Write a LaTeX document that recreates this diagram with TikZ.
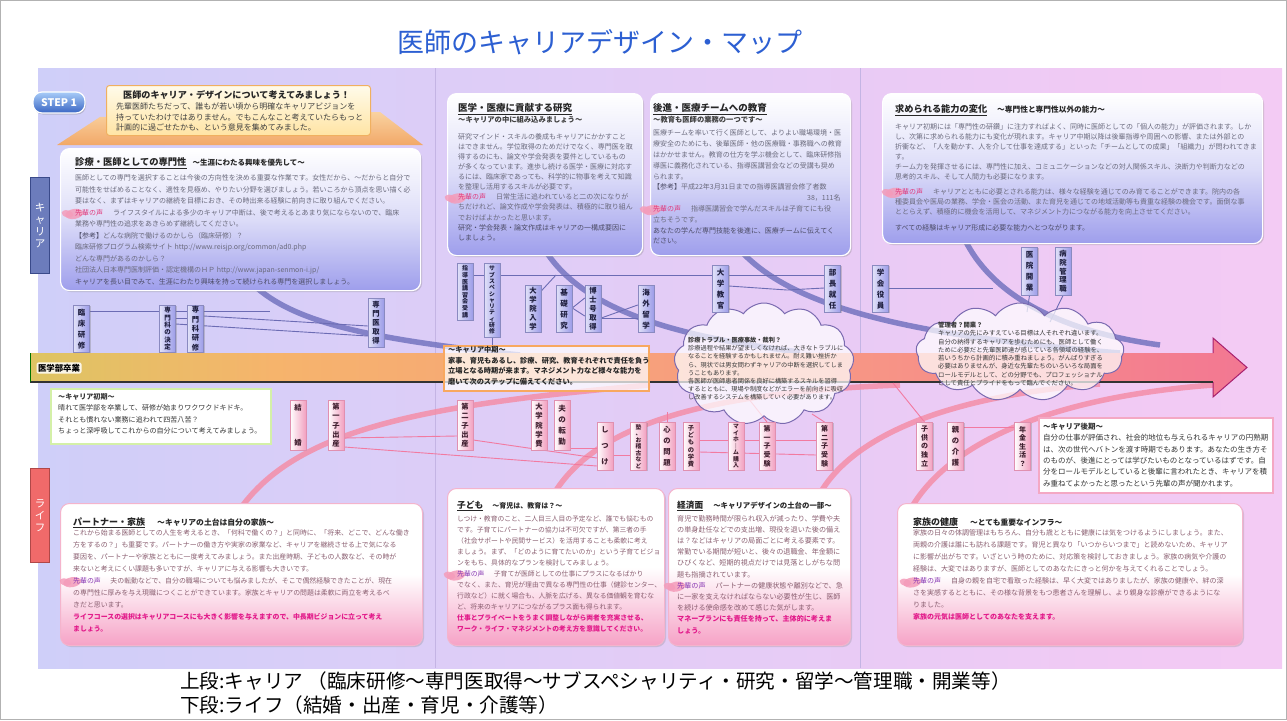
\documentclass[tikz,border=0pt]{standalone}
\usepackage{fontspec}
\setmainfont{Noto Sans CJK JP}
\usepackage{graphicx}
\usetikzlibrary{shapes.symbols,shadows}
\definecolor{ttl}{HTML}{2C5FD2}
\definecolor{bgA}{HTML}{B8D0FA}\definecolor{bgB}{HTML}{D8CEF8}\definecolor{bgC}{HTML}{F2CAF4}\definecolor{bgD}{HTML}{F8D0F6}
\definecolor{divc}{HTML}{C4B4E4}
\definecolor{arA}{HTML}{86D63C}\definecolor{arB}{HTML}{CCD05C}\definecolor{arC}{HTML}{F6B46C}\definecolor{arD}{HTML}{F79486}\definecolor{arE}{HTML}{F06A98}\definecolor{arF}{HTML}{D8288E}\definecolor{arO}{HTML}{A8206E}
\definecolor{cboxB}{HTML}{9E9EEC}\definecolor{cboxM}{HTML}{DCDCF8}
\definecolor{lboxB}{HTML}{F6A2C6}\definecolor{lboxD}{HTML}{F4B4CC}
\definecolor{ctext}{HTML}{6A6A7C}\definecolor{cclose}{HTML}{4C4C66}\definecolor{cvoice}{HTML}{E03C7E}\definecolor{blob}{HTML}{F49CBA}
\definecolor{ltext}{HTML}{8A5E70}\definecolor{lvoice}{HTML}{8A3AB4}\definecolor{lmag}{HTML}{E2198A}
\definecolor{clabB}{HTML}{9C9CE8}\definecolor{clabD}{HTML}{8A8AC0}\definecolor{clabT}{HTML}{202040}
\definecolor{llabB}{HTML}{F2A0C0}\definecolor{llabD}{HTML}{E090B0}\definecolor{llabT}{HTML}{402030}
\definecolor{clineC}{HTML}{6C6CB4}\definecolor{llineC}{HTML}{F27AA0}
\definecolor{bcurC}{HTML}{7474C0}\definecolor{pcurC}{HTML}{F48EA8}
\definecolor{ribT}{HTML}{F9D2A0}\definecolor{ribB}{HTML}{F2A868}
\definecolor{banT}{HTML}{FFFBEA}\definecolor{banB}{HTML}{FFE4A4}\definecolor{banD}{HTML}{F0B060}
\definecolor{stT}{HTML}{A8CCF8}\definecolor{stB}{HTML}{3A66C4}
\definecolor{cloudD}{HTML}{7A6AB0}
\definecolor{tabC}{HTML}{6C7CBC}\definecolor{tabCD}{HTML}{3A4A8A}\definecolor{tabL}{HTML}{F06A6A}\definecolor{tabLD}{HTML}{B04848}
\definecolor{greenB}{HTML}{D4F0A8}\definecolor{orgB}{HTML}{F8A860}\definecolor{lateB}{HTML}{F4A8C4}
\pgfdeclarehorizontalshading{bgsh}{100bp}{color(0bp)=(bgA); color(35bp)=(bgB); color(70bp)=(bgC); color(100bp)=(bgD)}
\pgfdeclarehorizontalshading{arrsh}{100bp}{color(0bp)=(arA); color(18bp)=(arB); color(35bp)=(arC); color(60bp)=(arD); color(82bp)=(arE); color(100bp)=(arF)}
\pgfdeclarelayer{back}
\pgfdeclarelayer{lines}
\pgfsetlayers{back,lines,main}
\makeatletter
\newcommand\vstk[1]{\vbox{\lineskiplimit=-20pt\@tfor\vs@c:=#1\do{\hbox to 1em{\hss\vs@c\hss}}}}
\makeatother
\newcommand\fsz[2]{\fontsize{#1}{#2}\selectfont}
\newcommand\sv[1]{\textcolor{#1}{先輩の声}\hspace{1.4em}}
\tikzset{
  cbox/.style={anchor=north west, inner sep=0pt, rounded corners=9pt, draw=white, line width=1.2pt, top color=white, bottom color=cboxB, middle color=cboxM, drop shadow={opacity=.3,shadow xshift=1.5pt,shadow yshift=-1.5pt}},
  lbox/.style={anchor=north west, inner sep=0pt, rounded corners=9pt, draw=lboxD, line width=1pt, top color=white, bottom color=lboxB, middle color=white, drop shadow={opacity=.25,shadow xshift=1.5pt,shadow yshift=-1.5pt}},
  tx/.style={anchor=north west, inner sep=0pt, align=left},
  clab/.style={anchor=north, inner sep=1pt, minimum width=16pt, draw=clabD, line width=.5pt, left color=white!70!clabB, right color=clabB, text=clabT, drop shadow={opacity=.35,shadow xshift=1pt,shadow yshift=-1pt}},
  llab/.style={anchor=north, inner sep=1pt, minimum width=16pt, draw=llabD, line width=.5pt, left color=white, right color=llabB, text=llabT, drop shadow={opacity=.35,shadow xshift=1pt,shadow yshift=-1pt}},
  cline/.style={draw=clineC, line width=.9pt},
  lline/.style={draw=llineC, line width=.9pt},
  bcurve/.style={draw=bcurC, line width=5.5pt, opacity=.85},
  pcurve/.style={draw=pcurC, line width=5.5pt, opacity=.85},
  cloudy/.style={cloud, cloud puffs=13, cloud puff arc=110, draw=cloudD, line width=1pt, fill=white, fill opacity=.72, inner sep=0pt},
  blobby/.style={fill=blob, fill opacity=.85},
}
\newcommand\blobat[2]{\fill[blobby, shift={(#1,#2)}, rotate=10] (-1,1) ellipse [x radius=9, y radius=5];\fill[blobby, shift={(#1,#2)}, rotate=-15] (-7,3) ellipse [x radius=6, y radius=3.5];}
\begin{document}
\begin{tikzpicture}[x=1pt,y=-1pt]
\useasboundingbox (0,0) rectangle (1287,720);
\begin{pgfonlayer}{back}
\fill[white] (0,0) rectangle (1287,720);
\draw[gray!60, line width=.8pt] (0.5,0.5) rectangle (1286.5,719.5);
\shade[shading=bgsh] (38,68) rectangle (1282,668);
\draw[divc, line width=1pt] (435,68) -- (435,668);
\draw[divc, line width=1pt] (860,68) -- (860,668);
% thick curves
\draw[bcurve] (257,288) .. controls (300,325) and (380,340) .. (520,355);
\draw[bcurve] (545,250) .. controls (580,305) and (660,335) .. (800,352);
\draw[bcurve] (740,250) .. controls (790,305) and (900,335) .. (1120,353);
\draw[bcurve] (965,240) .. controls (990,290) and (1050,330) .. (1160,345);
\draw[pcurve] (243,505) .. controls (300,430) and (420,405) .. (650,385);
\draw[pcurve] (555,492) .. controls (600,420) and (720,392) .. (900,385);
\draw[pcurve] (822,490) .. controls (860,430) and (960,395) .. (1100,384);
\draw[pcurve] (913,505) .. controls (960,430) and (1080,395) .. (1213,385);
% main arrow
\shade[shading=arrsh] (30,353) -- (1213,353) -- (1213,338) -- (1247,367.5) -- (1213,397) -- (1213,382) -- (30,382) -- cycle;
\draw[arO, line width=1pt] (1213,353) -- (1213,338) -- (1247,367.5) -- (1213,397) -- (1213,382);
\draw[black!80, line width=1.2pt] (30,382) -- (1213,382);
\draw[green!45!black, line width=.8pt] (30,353) -- (30,382);
\end{pgfonlayer}

% title and footer
\node[text=ttl, font=\fsz{27}{30}] (title) at (600,42) {医師のキャリアデザイン・マップ};
\node[anchor=west, inner sep=0pt, font=\fsz{19.6}{22}] (foot1) at (180,681) {上段:キャリア （臨床研修～専門医取得～サブスペシャリティ・研究・留学～管理職・開業等）};
\node[anchor=west, inner sep=0pt, font=\fsz{19.6}{22}] (foot2) at (180,705) {下段:ライフ（結婚・出産・育児・介護等）};

% side tabs
\node[anchor=north west, draw=tabCD, fill=tabC, line width=1pt, minimum width=19pt, minimum height=96pt, inner sep=0pt, text=white, font=\fsz{10.5}{12}] (tabc) at (30,177) {\vstk{キャリア}};
\node[anchor=north west, draw=tabLD, fill=tabL, line width=1pt, minimum width=19pt, minimum height=94pt, inner sep=0pt, text=white, font=\fsz{10.5}{12}] (tabl) at (30,468) {\vstk{ライフ}};

% banner
\shade[top color=ribT, bottom color=ribB] (57,145) -- (100,117) -- (380,112) -- (423,145) -- cycle;
\node[anchor=north west, minimum width=264pt, minimum height=50pt, rounded corners=3pt, draw=banD, line width=1pt, top color=banT, bottom color=banB, inner sep=0pt] (ban) at (106,85) {};
\node[tx, font=\fsz{9.1}{11}\bfseries, text=black!85] (bant) at (123,90.5) {医師のキャリア・デザインについて考えてみましょう！};
\node[tx, font=\fsz{8}{10.5}, text=black!75] (banb) at (116,102.7) {先輩医師たちだって、誰もが若い頃から明確なキャリアビジョンを\\持っていたわけではありません。でもこんなこと考えていたらもっと\\計画的に過ごせたかも、という意見を集めてみました。};
\node[rounded corners=9pt, top color=stT, bottom color=stB, draw=white, line width=1.2pt, text=white, font=\fsz{10.5}{12}\bfseries, minimum width=52pt, minimum height=21pt, inner sep=0pt, drop shadow={opacity=.35,shadow xshift=1pt,shadow yshift=-1.5pt}] (step) at (59,102.5) {STEP 1};

% career boxes
\node[cbox, minimum width=360pt, minimum height=142pt] (b1) at (60,148) {};
\node[cbox, minimum width=195pt, minimum height=162pt] (b2) at (447,93) {};
\node[cbox, minimum width=200pt, minimum height=162pt] (b3) at (650,93) {};
\node[cbox, minimum width=380pt, minimum height=150pt] (b4) at (882,93) {};
% life boxes
\node[lbox, minimum width=362pt, minimum height=142pt] (b5) at (60,503) {};
\node[lbox, minimum width=217pt, minimum height=157pt] (b6) at (447,488) {};
\node[lbox, minimum width=182pt, minimum height=157pt] (b7) at (668,488) {};
\node[lbox, minimum width=345pt, minimum height=142pt] (b8) at (897,503) {};
% "senpai no koe" blobs
\blobat{75}{212.8}
\blobat{458}{197.3}
\blobat{653}{208.9}
\blobat{895}{191.7}
\blobat{73}{581}
\blobat{457}{574.3}
\blobat{677}{585.5}
\blobat{913}{581.3}
% notes
\node[anchor=north west, inner sep=0pt, minimum width=220pt, minimum height=55pt, fill=white, draw=greenB, line width=1.5pt] (early) at (50,388) {};
\node[anchor=north west, inner sep=0pt, minimum width=205pt, minimum height=45pt, fill=white, fill opacity=.72, draw=orgB, line width=2pt] (midbox) at (443,345) {};
\node[anchor=north west, inner sep=0pt, minimum width=234pt, minimum height=75pt, fill=white, draw=lateB, line width=1.5pt] (late) at (1038,417) {};
\node[cloudy, minimum width=180pt, minimum height=122pt] (cl1) at (764,364) {};
\node[cloudy, minimum width=208pt, minimum height=98pt] (cl2) at (1020,352) {};
\node[anchor=center, fill=white, fill opacity=.85, text opacity=1, rounded corners=2pt, inner sep=1.5pt, font=\fsz{8.4}{10}\bfseries] (grad) at (59,368) {医学部卒業};

% career labels
\node[clab, minimum height=47pt, font=\fsz{7.5}{11}\bfseries] (rin) at (81.5,305) {\vstk{臨床研修}};
\node[clab, minimum height=47pt, font=\fsz{6.5}{7.4}\bfseries] (ket) at (167.5,305) {\vstk{専門科の決定}};
\node[clab, minimum height=47pt, font=\fsz{7.3}{9.3}\bfseries] (ken) at (195.5,305) {\vstk{専門科研修}};
\node[clab, minimum height=49pt, font=\fsz{7.3}{8.8}\bfseries] (sen) at (376,298) {\vstk{専門医取得}};
\node[clab, minimum height=57pt, font=\fsz{6}{6.6}\bfseries] (shi) at (465,263) {\vstk{指導医講習会受講}};
\node[clab, minimum height=74pt, font=\fsz{5.8}{6.3}\bfseries] (sub) at (492,263) {\vstk{サブスペシャリティ研修}};
\node[clab, minimum height=47pt, font=\fsz{7.3}{8.8}\bfseries] (dai) at (533,285) {\vstk{大学院入学}};
\node[clab, minimum height=47pt, font=\fsz{7.5}{11}\bfseries] (kis) at (564,285) {\vstk{基礎研究}};
\node[clab, minimum height=47pt, font=\fsz{7.3}{8.8}\bfseries] (hak) at (593,285) {\vstk{博士号取得}};
\node[clab, minimum height=47pt, font=\fsz{7.5}{11}\bfseries] (kai) at (646,285) {\vstk{海外留学}};
\node[clab, minimum height=47pt, font=\fsz{7.5}{11}\bfseries] (kyo) at (720.5,265) {\vstk{大学教官}};
\node[clab, minimum height=47pt, font=\fsz{7.5}{11}\bfseries] (bu) at (832.5,265) {\vstk{部長就任}};
\node[clab, minimum height=47pt, font=\fsz{7.5}{11}\bfseries] (gak) at (880.5,265) {\vstk{学会役員}};
\node[clab, minimum height=48pt, font=\fsz{7.5}{11}\bfseries] (iin) at (1029.5,247) {\vstk{医院開業}};
\node[clab, minimum height=48pt, font=\fsz{7.3}{8.8}\bfseries] (byo) at (1063,247) {\vstk{病院管理職}};
% life labels
\node[llab, minimum height=50pt, font=\fsz{7.3}{35}\bfseries] (kek) at (298,400) {\vstk{結婚}};
\node[llab, minimum height=50pt, font=\fsz{7.3}{9.3}\bfseries] (dai1) at (336,400) {\vstk{第一子出産}};
\node[llab, minimum height=50pt, font=\fsz{7.3}{9.3}\bfseries] (dai2) at (465,400) {\vstk{第二子出産}};
\node[llab, minimum height=50pt, font=\fsz{7.3}{9.3}\bfseries] (gakuhi) at (539,400) {\vstk{大学院学費}};
\node[llab, minimum height=50pt, font=\fsz{7.5}{11}\bfseries] (ten) at (562,400) {\vstk{夫の転勤}};
\node[llab, minimum height=48pt, font=\fsz{7.3}{16}\bfseries] (shitsuke) at (605,422) {\vstk{しつけ}};
\node[llab, minimum height=48pt, font=\fsz{5.8}{6.5}\bfseries] (juku) at (638.5,422) {\vstk{塾、お稽古など}};
\node[llab, minimum height=48pt, font=\fsz{7.3}{11}\bfseries] (kokoro) at (667,422) {\vstk{心の問題}};
\node[llab, minimum height=48pt, font=\fsz{6.3}{7.2}\bfseries] (gakuhi2) at (691,422) {\vstk{子どもの学費}};
\node[llab, minimum height=48pt, font=\fsz{5.8}{6.5}\bfseries] (home) at (736,422) {\vstk{マイホ｜ム購入}};
\node[llab, minimum height=48pt, font=\fsz{7}{8.6}\bfseries] (ju1) at (767,422) {\vstk{第一子受験}};
\node[llab, minimum height=48pt, font=\fsz{7}{8.6}\bfseries] (ju2) at (824.5,422) {\vstk{第二子受験}};
\node[llab, minimum height=48pt, font=\fsz{7}{8.6}\bfseries] (dok) at (924.5,422) {\vstk{子供の独立}};
\node[llab, minimum height=48pt, font=\fsz{7.3}{11}\bfseries] (kai2) at (955.5,422) {\vstk{親の介護}};
\node[llab, minimum height=48pt, font=\fsz{7}{8.6}\bfseries] (nen) at (1022.5,422) {\vstk{年金生活？}};

% free ends of connectors
\coordinate (f1) at (270,311);
\coordinate (f2) at (556,275);
\coordinate (f3) at (787,290);
\coordinate (f4) at (993,288);
\coordinate (f5) at (1027,312);
\coordinate (f6) at (1050,322);
\coordinate (f7) at (667,412);
\coordinate (f8) at (748,398);
\coordinate (f9) at (812,414);
\coordinate (f10) at (893,383);

\begin{pgfonlayer}{lines}
\draw[cline] (rin.east |- 0,311) -- (f1);
\draw[cline] (ket.east |- 0,318) -- (ken.west |- 0,318);
\draw[cline] (ket.east |- 0,324) -- (sen.west |- 0,336);
\draw[cline] (ken.east |- 0,316) -- (sen.west |- 0,326);
\draw[cline] (shi.east |- 0,275) -- (sub.west |- 0,275);
\draw[cline] (sub.east |- 0,275) -- (kyo.west |- 0,275);
\draw[cline] (kyo.east |- 0,275) -- (bu.west |- 0,275);
\draw[cline] (dai.east |- 0,291) -- (f2);
\draw[cline] (kis.east |- 0,308) -- (hak.west |- 0,298);
\draw[cline] (kis.east |- 0,308) -- (hak.west |- 0,316);
\draw[cline] (hak.east |- 0,318) -- (kai.west |- 0,318);
\draw[cline] (hak.east |- 0,318) -- (kai.west |- 0,305);
\draw[cline] (sub.south) -- (sub.south |- midbox.north);
\draw[cline] (kyo.east |- 0,286) -- (f3) -- (bu.west |- 0,288);
\draw[cline] (gak.east |- 0,288) -- (f4);
\draw[cline] (iin.south) -- (f5);
\draw[cline] (byo.south) -- (f6);
\draw[lline] (dai1.east |- 0,438) -- (dai2.west |- 0,436);
\draw[lline] (dai1.east |- 0,447) -- (shitsuke.west |- 0,466);
\draw[lline] (dai2.east |- 0,440) -- (shitsuke.west |- 0,458);
\draw[lline] (ten.east |- 0,448) -- (shitsuke.west |- 0,448);
\draw[lline] (shitsuke.east |- 0,455) -- (juku.west |- 0,455);
\draw[lline] (gakuhi2.east |- 0,440) -- (ju2.west |- 0,440);
\draw[lline] (gakuhi2.east |- 0,452) -- (ju2.west |- 0,455);
\draw[lline] (kokoro.north) -- (f7);
\draw[lline] (ju1.north) -- (f8);
\draw[lline] (ju2.north) -- (f9);
\draw[lline] (dok.north) -- (f10);
\draw[lline] (kai2.east |- 0,427) -- (nen.west |- 0,427);
\end{pgfonlayer}

% ---- texts: career box 1
\node[tx, font=\fsz{9.3}{11}\bfseries, text=black!85] (t1) at (75,157.3) {\underline{診療・医師としての専門性}\hspace{6pt}{\fsz{7.5}{9}\bfseries ～生涯にわたる興味を優先して～}};
\node[tx, font=\fsz{7}{11.5}, text=ctext] (x1) at (75,174.8) {医師としての専門を選択することは今後の方向性を決める重要な作業です。女性だから、～だからと自分で\\
可能性をせばめることなく、適性を見極め、やりたい分野を選びましょう。若いころから頂点を思い描く必\\
要はなく、まずはキャリアの継続を目標におき、その時出来る経験に前向きに取り組んでください。\\
\sv{cvoice}ライフスタイルによる多少のキャリア中断は、後で考えるとあまり気にならないので、臨床\\
業務や専門性の追求をあきらめず継続してください。\\
{\color{cclose}【参考】}どんな病院で働けるのかしら（臨床研修）？\\
臨床研修プログラム検索サイト http://www.reisjp.org/common/ad0.php\\
どんな専門があるのかしら？\\
社団法人日本専門医制評価・認定機構のＨＰ http://www.japan-senmon-i.jp/\\
{\color{cclose}キャリアを長い目でみて、生涯にわたり興味を持って続けられる専門を選択しましょう。}};
% career box 2
\node[tx, font=\fsz{9.5}{11}\bfseries, text=black!85] (t2) at (458,103.6) {\underline{医学・医療に貢献する研究}};
\node[tx, font=\fsz{7.3}{9}\bfseries, text=black!75] (s2) at (458,116.4) {～キャリアの中に組み込みましょう～};
\node[tx, font=\fsz{7}{10.1}, text=ctext] (x2) at (458,133.2) {研究マインド・スキルの養成もキャリアにかかすこと\\
はできません。学位取得のためだけでなく、専門医を取\\
得するのにも、論文や学会発表を要件としているもの\\
が多くなっています。進歩し続ける医学・医療に対応す\\
るには、臨床家であっても、科学的に物事を考えて知識\\
を整理し活用するスキルが必要です。\\
\sv{cvoice}日常生活に追われていると二の次になりが\\
ちだけれど、論文作成や学会発表は、積極的に取り組ん\\
でおけばよかったと思います。\\
{\color{cclose}研究・学会発表・論文作成はキャリアの一構成要因に}\\
{\color{cclose}しましょう。}};
% career box 3
\node[tx, font=\fsz{9.5}{11}\bfseries, text=black!85] (t3) at (653,103.6) {\underline{後進・医療チームへの教育}};
\node[tx, font=\fsz{7.3}{9}\bfseries, text=black!75] (s3) at (653,115.7) {～教育も医師の業務の一つです～};
\node[tx, font=\fsz{7}{10.8}, text=ctext] (x3) at (653,129.8) {医療チームを率いて行く医師として、よりよい職場環境・医\\
療安全のためにも、後輩医師・他の医療職・事務職への教育\\
はかかせません。教育の仕方を学ぶ機会として、臨床研修指\\
導医に義務化されている、指導医講習会などの受講も奨め\\
られます。\\
{\color{cclose}【参考】}平成22年3月31日までの指導医講習会修了者数\\
\hspace*{154pt}38，111名\\
\sv{cvoice}指導医講習会で学んだスキルは子育てにも役\\
立ちそうです。\\
{\color{cclose}あなたの学んだ専門技能を後進に、医療チームに伝えてく}\\
{\color{cclose}ださい。}};
% career box 4
\node[tx, font=\fsz{9.2}{11}\bfseries, text=black!85] (t4) at (895,104.4) {\underline{求められる能力の変化}\hspace{10pt}{\fsz{7.7}{9}\bfseries ～専門性と専門性以外の能力～}};
\node[tx, font=\fsz{7}{10}, text=ctext] (x4) at (895,123.2) {キャリア初期には「専門性の研鑽」に注力すればよく、同時に医師としての「個人の能力」が評価されます。しか\\
し、次第に求められる能力にも変化が現れます。キャリア中期以降は後輩指導や周囲への影響、または外部との\\
折衝など、「人を動かす、人を介して仕事を達成する」といった「チームとしての成果」「組織力」が問われてきま\\
す。\\
チーム力を発揮させるには、専門性に加え、コミュニケーションなどの対人関係スキル、決断力や判断力などの\\
思考的スキル、そして人間力も必要になります。\\[5pt]
\sv{cvoice}キャリアとともに必要とされる能力は、様々な経験を通じてのみ育てることができます。院内の各\\
種委員会や医局の業務、学会・医会の活動、また育児を通じての地域活動等も貴重な経験の機会です。面倒な事\\
ととらえず、積極的に機会を活用して、マネジメント力につながる能力を向上させてください。\\[6.6pt]
{\color{cclose}すべての経験はキャリア形成に必要な能力へとつながります。}};
% life box 1
\node[tx, font=\fsz{9}{11}\bfseries, text=black!85] (t5) at (73,517.2) {\underline{パートナー・家族}\hspace{12pt}{\fsz{7.8}{9}\bfseries ～キャリアの土台は自分の家族～}};
\node[tx, font=\fsz{6.9}{11.9}, text=ltext] (x5) at (73,529.9) {これから始まる医師としての人生を考えるとき、「何科で働くの？」と同時に、「将来、どこで、どんな働き\\
方をするの？」も重要です。パートナーの働き方や実家の家業など、キャリアを継続させる上で気になる\\
要因を、パートナーや家族とともに一度考えてみましょう。また出産時期、子どもの人数など、その時が\\
来ないと考えにくい課題も多いですが、キャリアに与える影響も大きいです。\\
\sv{lvoice}夫の転勤などで、自分の職場についても悩みましたが、そこで偶然経験できたことが、現在\\
の専門性に厚みを与え現職につくことができています。家族とキャリアの問題は柔軟に両立を考えるべ\\
きだと思います。\\
{\color{lmag}\bfseries ライフコースの選択はキャリアコースにも大きく影響を与えますので、中長期ビジョンに立って考え}\\
{\color{lmag}\bfseries ましょう。}};
% life box 2
\node[tx, font=\fsz{8.7}{11}\bfseries, text=black!85] (t6) at (457,500.7) {\underline{子ども}\hspace{9pt}{\fsz{7}{9}\bfseries ～育児は、教育は？～}};
\node[tx, font=\fsz{6.8}{11}, text=ltext] (x6) at (457,515.9) {しつけ・教育のこと、二人目三人目の予定など、誰でも悩むもの\\
です。子育てにパートナーの協力は不可欠ですが、第三者の手\\
（社会サポートや民間サービス）を活用することも柔軟に考え\\
ましょう。まず、「どのように育てたいのか」という子育てビジョ\\
ンをもち、具体的なプランを検討してみましょう。\\
\sv{lvoice}子育てが医師としての仕事にプラスになるばかり\\
でなく、また、育児が理由で異なる専門性の仕事（健診センター、\\
行政など）に就く場合も、人脈を広げる、異なる価値観を育むな\\
ど、将来のキャリアにつながるプラス面も得られます。\\
{\color{lmag}\bfseries 仕事とプライベートをうまく調整しながら両者を充実させる、}\\
{\color{lmag}\bfseries ワーク・ライフ・マネジメントの考え方を意識してください。}};
% life box 3
\node[tx, font=\fsz{8.7}{11}\bfseries, text=black!85] (t7) at (677,500.7) {\underline{経済面}\hspace{10pt}{\fsz{7.4}{9}\bfseries ～キャリアデザインの土台の一部～}};
\node[tx, font=\fsz{7.1}{11.2}, text=ltext] (x7) at (677,514.8) {育児で勤務時間が限られ収入が減ったり、学費や夫\\
の単身赴任などでの支出増、現役を退いた後の備え\\
は？などはキャリアの局面ごとに考える要素です。\\
常勤でいる期間が短いと、後々の退職金、年金額に\\
ひびくなど、短期的視点だけでは見落としがちな問\\
題も指摘されています。\\
\sv{lvoice}パートナーの健康状態や離別などで、急\\
に一家を支えなければならない必要性が生じ、医師\\
を続ける使命感を改めて感じた気がします。\\
{\color{lmag}\bfseries マネープランにも責任を持って、主体的に考えま}\\
{\color{lmag}\bfseries しょう。}};
% life box 4
\node[tx, font=\fsz{9}{11}\bfseries, text=black!85] (t8) at (913,517.2) {\underline{家族の健康}\hspace{12pt}{\fsz{7.75}{9}\bfseries ～とても重要なインフラ～}};
\node[tx, font=\fsz{7}{12}, text=ltext] (x8) at (913,529.8) {家族の日々の体調管理はもちろん、自分も歳とともに健康には気をつけるようにしましょう。また、\\
両親の介護は誰にも訪れる課題です。育児と異なり「いつからいつまで」と読めないため、キャリア\\
に影響が出がちです。いざという時のために、対応策を検討しておきましょう。家族の病気や介護の\\
経験は、大変ではありますが、医師としてのあなたにきっと何かを与えてくれることでしょう。\\
\sv{lvoice}自身の親を自宅で看取った経験は、早く大変ではありましたが、家族の健康や、絆の深\\
さを実感するとともに、その様な背景をもつ患者さんを理解し、より親身な診療ができるようにな\\
りました。\\
{\color{lmag}\bfseries 家族の元気は医師としてのあなたを支えます。}};
% notes text
\node[tx, font=\fsz{7.05}{11.4}, text=black!80] (xe) at (58,393.2) {{\bfseries ～キャリア初期～}\\
晴れて医学部を卒業して、研修が始まりワクワクドキドキ。\\
それとも慣れない業務に追われて四苦八苦？\\
ちょっと深呼吸してこれからの自分について考えてみましょう。};
\node[tx, font=\fsz{7.2}{10.5}\bfseries, text=black!85] (xm) at (448,346.4) {～キャリア中期～\\
家事、育児もあるし、診療、研究、教育それぞれで責任を負う\\
立場となる時期が来ます。マネジメント力など様々な能力を\\
磨いて次のステップに備えてください。};
\node[tx, font=\fsz{7.5}{11.3}, text=black!80] (xl) at (1043,422.9) {{\bfseries ～キャリア後期～}\\
自分の仕事が評価され、社会的地位も与えられるキャリアの円熟期\\
は、次の世代へバトンを渡す時期でもあります。あなたの生き方そ\\
のものが、後進にとっては学びたいものとなっているはずです。自\\
分をロールモデルとしていると後輩に言われたとき、キャリアを積\\
み重ねてよかったと思ったという先輩の声が聞かれます。};
\node[tx, font=\fsz{6.2}{8.2}, text=black!78] (xc1) at (688,336.9) {{\bfseries 診療トラブル・医療事故・裁判？}\\
診療過程や結果が望ましくなければ、大きなトラブルに\\
なることを経験するかもしれません。耐え難い挫折か\\
ら、現状では男女問わずキャリアの中断を選択してしま\\
うこともあります。\\
各医師が医師患者関係を良好に構築するスキルを習得\\
するとともに、現場や制度などがエラーを前向きに吸収\\
し改善するシステムを構築していく必要があります。};
\node[tx, font=\fsz{6.35}{8.3}, text=black!78] (xc2) at (938,321.8) {{\bfseries 管理者？開業？}\\
キャリアの先にみすえている目標は人それぞれ違います。\\
自分の納得するキャリアを歩むためにも、医師として働く\\
ために必要だと先輩医師達が感じている各領域の経験を、\\
若いうちから計画的に積み重ねましょう。がんばりすぎる\\
必要はありませんが、身近な先輩たちのいろいろな局面を\\
ロールモデルとして、どの分野でも、プロフェッショナル\\
として責任とプライドをもって臨んでください。};
\end{tikzpicture}
\end{document}
